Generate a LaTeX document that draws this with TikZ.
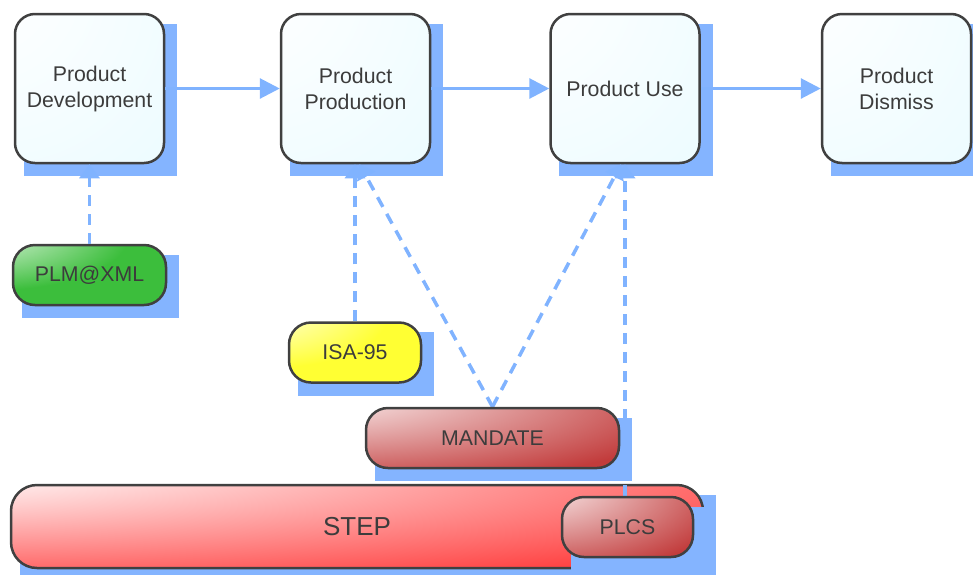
\documentclass[tikz,border=0pt]{standalone}
\usepackage{fontspec}
\setmainfont{Liberation Sans}
\usetikzlibrary{arrows.meta}
\definecolor{shadowblue}{HTML}{84B4FF}
\definecolor{linkblue}{HTML}{80B3FF}
\definecolor{bordergray}{HTML}{404040}
\definecolor{textgray}{HTML}{3C3C3C}
\definecolor{topcyan}{HTML}{EAFBFF}
\definecolor{plmgreen}{HTML}{3CBE3C}
\definecolor{isayellow}{HTML}{FFFF33}
\definecolor{mandred}{HTML}{C23C3C}
\definecolor{stepred}{HTML}{FF3A3A}
\pgfdeclareradialshading{topshade}{\pgfpoint{-45bp}{45bp}}{color(0bp)=(white);color(12bp)=(white);color(80bp)=(topcyan);color(160bp)=(topcyan)}
\pgfdeclareradialshading{plmshade}{\pgfpoint{-45bp}{45bp}}{color(0bp)=(white);color(3bp)=(white);color(45bp)=(plmgreen);color(160bp)=(plmgreen)}
\pgfdeclareradialshading{isashade}{\pgfpoint{-45bp}{45bp}}{color(0bp)=(white);color(3bp)=(white);color(45bp)=(isayellow);color(160bp)=(isayellow)}
\pgfdeclareradialshading{mandshade}{\pgfpoint{-45bp}{45bp}}{color(0bp)=(white);color(6bp)=(white);color(66bp)=(mandred);color(160bp)=(mandred)}
\pgfdeclareradialshading{stepshade}{\pgfpoint{-45bp}{45bp}}{color(0bp)=(white);color(14bp)=(white);color(68bp)=(stepred);color(160bp)=(stepred)}
\pgfdeclarelayer{shadA}
\pgfdeclarelayer{nodesA}
\pgfdeclarelayer{conn}
\pgfdeclarelayer{shadB}
\pgfsetlayers{shadA,nodesA,conn,shadB,main}
\begin{document}
\begin{tikzpicture}[x=1pt,y=-1pt,
  base/.style={draw=bordergray, line width=2.5pt, text=textgray,
    font=\fontsize{21.3}{26}\selectfont, align=center, inner sep=0pt},
  topbox/.style={base, rounded corners=20pt, minimum width=149pt,
    minimum height=149pt, shading=topshade},
  pill/.style={base, rounded corners=22pt, minimum height=60pt},
  link/.style={linkblue, line width=3pt, -{Triangle[length=20pt,width=20pt]}},
  dlink/.style={linkblue, line width=3.5pt, dash pattern=on 11pt off 8pt,
    -{Triangle[length=14pt,width=20pt]}},
  shadowfill/.style={fill=shadowblue}]
\useasboundingbox (0,0) rectangle (973,574);
\begin{pgfonlayer}{nodesA}
\node[topbox] (pd) at (89.5,88.5) {Product\\Development};
\node[topbox] (pp) at (355.5,88.5) {Product\\Production};
\node[topbox] (pu) at (625,88.5) {Product Use};
\node[topbox] (pdis) at (896.5,88.5) {Product\\Dismiss};
\node[pill, shading=plmshade, minimum width=153pt] (plm) at (89.5,275) {PLM@XML};
\node[pill, shading=isashade, minimum width=132pt] (isa) at (355,352.5) {ISA-95};
\node[pill, shading=stepshade, minimum width=692pt, minimum height=83pt,
  rounded corners=26pt, font=\fontsize{26}{30}\selectfont] (step) at (357,526.5) {STEP};
\end{pgfonlayer}
\node[pill, shading=mandshade, minimum width=253pt] (mand) at (492.5,438) {MANDATE};
\node[pill, shading=mandshade, minimum width=131pt] (plcs) at (627.5,527) {PLCS};
\begin{pgfonlayer}{shadA}
\foreach \n in {pd,pp,pu,pdis,plm,isa,step}
  \fill[shadowfill] ([shift={(10,11)}]\n.north west) rectangle ([shift={(12,12)}]\n.south east);
\end{pgfonlayer}
\begin{pgfonlayer}{shadB}
\foreach \n in {mand,plcs}
  \fill[shadowfill] ([shift={(10,11)}]\n.north west) rectangle ([shift={(12,12)}]\n.south east);
\end{pgfonlayer}
\begin{pgfonlayer}{conn}
\draw[link] (pd) -- (pp);
\draw[link] (pp) -- (pu);
\draw[link] (pu) -- (pdis);
\draw[dlink] (plm) -- (pd);
\draw[dlink] (isa.north) -- (isa.north |- pp.south);
\draw[dlink] (mand.north) -- ([xshift=4pt]pp.south);
\draw[dlink] (mand.north) -- ([xshift=-4pt]pu.south);
\draw[dlink] (plcs.north -| pu.south) -- (pu.south);
\end{pgfonlayer}
\end{tikzpicture}
\end{document}
